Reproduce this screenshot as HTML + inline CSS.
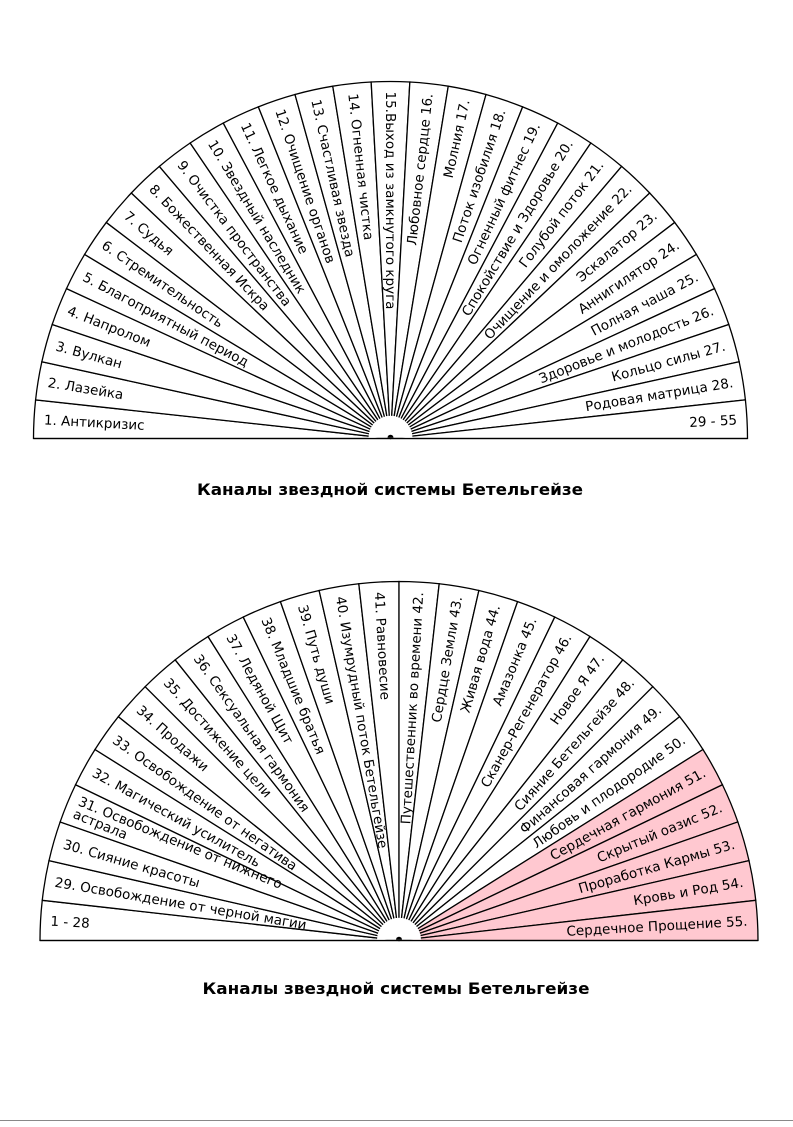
<!DOCTYPE html>
<html><head><meta charset="utf-8"><style>
html,body{margin:0;padding:0;background:#fff;}
svg text{font-family:"DejaVu Sans","Liberation Sans",sans-serif;}
</style></head><body>
<svg id="s" width="793" height="1122" xmlns="http://www.w3.org/2000/svg">
<rect width="793" height="1122" fill="#fff"/>
<text x="390" y="495" font-size="16" font-weight="bold" text-anchor="middle" textLength="386" lengthAdjust="spacingAndGlyphs">Каналы звездной системы Бетельгейзе</text>
<text x="396" y="994" font-size="16" font-weight="bold" text-anchor="middle" textLength="387" lengthAdjust="spacingAndGlyphs">Каналы звездной системы Бетельгейзе</text>
<line x1="0" y1="1120.5" x2="793" y2="1120.5" stroke="#888" stroke-width="1"/>
</svg>
<script>
var NS="http://www.w3.org/2000/svg",S=document.getElementById('s');
function el(n,a,t){var e=document.createElementNS(NS,n);for(var k in a)e.setAttribute(k,a[k]);if(t!=null)e.textContent=t;S.appendChild(e);return e;}
function fan(cx,cy,R,labels,pink){
 var n=labels.length,step=180/n,rad=Math.PI/180;
 for(var i=0;i<n;i++){
  var a1=(180-i*step)*rad,a2=(180-(i+1)*step)*rad;
  var p1=[cx+R*Math.cos(a1),cy-R*Math.sin(a1)],p2=[cx+R*Math.cos(a2),cy-R*Math.sin(a2)];
  el('path',{d:'M'+cx+','+cy+' L'+p1[0]+','+p1[1]+' A'+R+','+R+' 0 0 1 '+p2[0]+','+p2[1]+' Z',fill:pink.indexOf(i)>=0?'#ffc8d0':'#fff',stroke:'#000','stroke-width':1.3});
 }
 el('line',{x1:cx-R,y1:cy,x2:cx+R,y2:cy,stroke:'#000','stroke-width':1.3});
 for(var i=0;i<n;i++){
  var a=180-(i+0.5)*step,ar=a*rad,r=R-10;
  var x=cx+r*Math.cos(ar),y=cy-r*Math.sin(ar);
  var lab=labels[i],t;
  if(a>=90){
   t=el('text',{x:x,y:y,'font-size':13.5,'text-anchor':'start',transform:'rotate('+(180-a)+' '+x+' '+y+')'});
  }else{
   t=el('text',{x:x,y:y,'font-size':13.5,'text-anchor':'end',transform:'rotate('+(-a)+' '+x+' '+y+')'});
  }
  if(Array.isArray(lab)){
   var s1=document.createElementNS(NS,'tspan');s1.setAttribute('x',x);s1.setAttribute('dy','-0.15em');s1.textContent=lab[0];t.appendChild(s1);
   var s2=document.createElementNS(NS,'tspan');s2.setAttribute('x',x);s2.setAttribute('dy','1.0em');s2.textContent=lab[1];t.appendChild(s2);
  }else{t.setAttribute('dy','0.35em');t.textContent=lab;}
 }
 el('path',{d:'M'+(cx-22)+','+(cy-0.7)+' A22,22 0 0 1 '+(cx+22)+','+(cy-0.7)+' Z',fill:'#fff',stroke:'none'});
 el('path',{d:'M'+(cx-3)+','+(cy-0.7)+' A3,3 0 0 1 '+(cx+3)+','+(cy-0.7)+' Z',fill:'#000'});
}
fan(390.5,438.5,357,["1. Антикризис","2. Лазейка","3. Вулкан","4. Напролом","5. Благоприятный период","6. Стремительность","7. Судья","8. Божественная Искра","9. Очистка пространства","10. Звездный наследник","11. Легкое дыхание","12. Очищение органов","13. Счастливая звезда","14. Огненная чистка","15.Выход из замкнутого круга","Любовное сердце 16.","Молния 17.","Поток изобилия 18.","Огненный фитнес 19.","Спокойствие и Здоровье 20.","Голубой поток 21.","Очищение и омоложение 22.","Эскалатор 23.","Аннигилятор 24.","Полная чаша 25.","Здоровье и молодость 26.","Кольцо силы 27.","Родовая матрица 28.","29 - 55"],[]);
fan(399,940.5,359,["1 - 28","29. Освобождение от черной магии","30. Сияние красоты",["31. Освобождение от нижнего","астрала"],"32. Магический усилитель","33. Освобождение от негатива","34. Продажи","35. Достижение цели","36. Сексуальная гармония","37. Ледяной Щит","38. Младшие братья","39. Путь души","40. Изумрудный поток Бетельгейзе","41. Равновесие","Путешественник во времени 42.","Сердце Земли 43.","Живая вода 44.","Амазонка 45.","Сканер-Регенератор 46.","Новое Я 47.","Сияние Бетельгейзе 48.","Финансовая гармония 49.","Любовь и плодородие 50.","Сердечная гармония 51.","Скрытый оазис 52.","Проработка Кармы 53.","Кровь и Род 54.","Сердечное Прощение 55."],[23,24,25,26,27]);
</script>
</body></html>
